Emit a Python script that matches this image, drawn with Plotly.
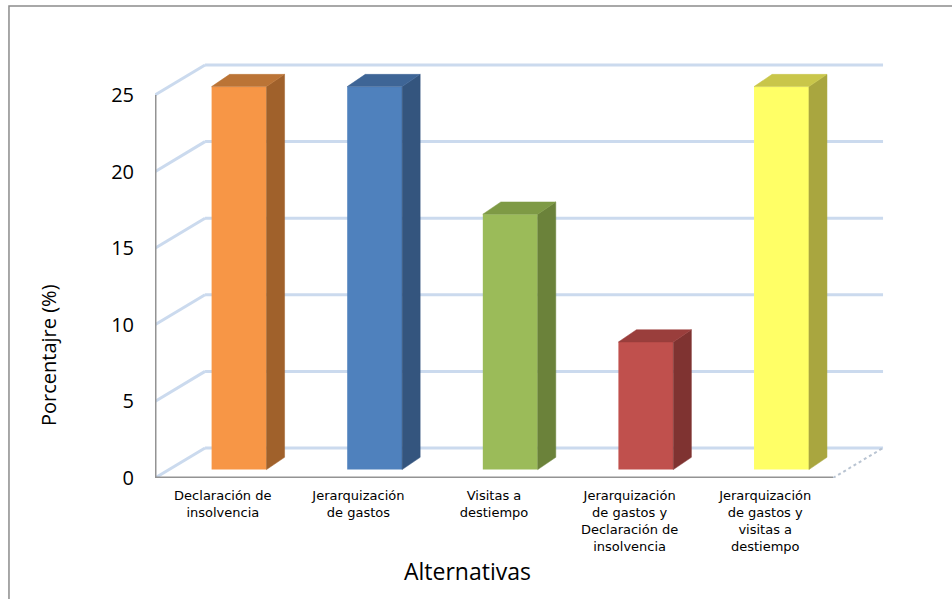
import plotly.graph_objects as go

# Chart data
categories = [
    "Declaración de<br>insolvencia",
    "Jerarquización<br>de gastos",
    "Visitas a<br>destiempo",
    "Jerarquización<br>de gastos y<br>Declaración de<br>insolvencia",
    "Jerarquización<br>de gastos y<br>visitas a<br>destiempo",
]
porcentaje = [25, 25, 16.67, 8.33, 25]
y_ticks = [0, 5, 10, 15, 20, 25]

# Face colours per bar (front, side, top)
front_colors = ["#F79646", "#4F81BD", "#9BBB59", "#C0504D", "#FFFF66"]
side_colors = ["#A0612B", "#34557E", "#6B823A", "#7F3331", "#A9A63F"]
top_colors = ["#BB7436", "#3E6596", "#7E9A45", "#9A3E3C", "#C9C64A"]

# Pseudo-3D geometry, in axis units
X0, X1 = -0.5, 4.5          # front floor edge
WALL_DX, WALL_DY = 0.369, 1.96   # depth of the back wall
BAR_SHIFT_X, BAR_SHIFT_Y = 0.12, 0.55  # bars sit a little behind the front plane
BAR_W = 0.405
BAR_DX, BAR_DY = 0.133, 0.80   # bar depth
GRID_COLOR = "#CBDAEE"
AXIS_COLOR = "#939393"

fig = go.Figure()
shapes = []

# Side-wall diagonals and back-wall gridlines
for v in y_ticks:
    shapes.append(dict(type="line", xref="x", yref="y", layer="below",
                       x0=X0, y0=v, x1=X0 + WALL_DX, y1=v + WALL_DY,
                       line=dict(color=GRID_COLOR, width=3)))
    shapes.append(dict(type="line", xref="x", yref="y", layer="below",
                       x0=X0 + WALL_DX, y0=v + WALL_DY, x1=X1 + WALL_DX, y1=v + WALL_DY,
                       line=dict(color=GRID_COLOR, width=3)))
# Right floor edge
shapes.append(dict(type="line", xref="x", yref="y", layer="below",
                   x0=X1, y0=0, x1=X1 + WALL_DX, y1=WALL_DY,
                   line=dict(color="#B9C4D2", width=2, dash="dot")))
# Front axes
shapes.append(dict(type="line", xref="x", yref="y", layer="above",
                   x0=X0, y0=0, x1=X0, y1=y_ticks[-1],
                   line=dict(color=AXIS_COLOR, width=3)))
shapes.append(dict(type="line", xref="x", yref="y", layer="above",
                   x0=X0, y0=0, x1=X1, y1=0,
                   line=dict(color=AXIS_COLOR, width=3)))
# Chart frame
shapes.append(dict(type="rect", xref="paper", yref="paper", layer="below",
                   x0=-0.196, y0=-0.3, x1=1.1, y1=1.103,
                   line=dict(color="#8C8C8C", width=1.5)))

# Front faces of the bars
xs = [i + BAR_SHIFT_X for i in range(len(porcentaje))]
fig.add_trace(go.Bar(
    x=xs, y=porcentaje, base=BAR_SHIFT_Y, width=BAR_W,
    marker=dict(color=front_colors, line=dict(width=0)),
    hoverinfo="skip", showlegend=False,
))

# Side and top faces
for i, v in enumerate(porcentaje):
    xl = xs[i] - BAR_W / 2
    xr = xs[i] + BAR_W / 2
    b = BAR_SHIFT_Y
    t = BAR_SHIFT_Y + v
    fig.add_trace(go.Scatter(
        x=[xr, xr + BAR_DX, xr + BAR_DX, xr, xr],
        y=[b, b + BAR_DY, t + BAR_DY, t, b],
        fill="toself", fillcolor=side_colors[i], mode="lines",
        line=dict(width=0.5, color=side_colors[i]),
        hoverinfo="skip", showlegend=False,
    ))
    fig.add_trace(go.Scatter(
        x=[xl, xl + BAR_DX, xr + BAR_DX, xr, xl],
        y=[t, t + BAR_DY, t + BAR_DY, t, t],
        fill="toself", fillcolor=top_colors[i], mode="lines",
        line=dict(width=0.5, color=top_colors[i]),
        hoverinfo="skip", showlegend=False,
    ))

fig.update_layout(
    width=952, height=599,
    margin=dict(l=155, r=52, t=50, b=121),
    paper_bgcolor="white", plot_bgcolor="white",
    shapes=shapes,
    xaxis=dict(range=[-0.5, 4.994], tickvals=list(range(len(categories))),
               ticktext=categories, showgrid=False, zeroline=False,
               showline=False, ticks="", ticklabelstandoff=8,
               tickfont=dict(family="DejaVu Sans", size=13, color="black")),
    yaxis=dict(range=[0, 27.94], tickvals=y_ticks, showgrid=False,
               zeroline=False, showline=False, ticks="",
               ticklabelstandoff=20,
               tickfont=dict(family="Open Sans", size=20, color="black")),
    annotations=[
        dict(text="Alternativas", xref="paper", yref="paper",
             x=(467 - 155) / 745, y=(478 - 571) / 428, showarrow=False,
             xanchor="center", yanchor="middle",
             font=dict(family="Open Sans", size=23, color="black")),
        dict(text="Porcentajre (%)", xref="paper", yref="paper",
             x=(48 - 155) / 745, y=(478 - 355) / 428, showarrow=False,
             xanchor="center", yanchor="middle",
             textangle=-90,
             font=dict(family="Open Sans", size=20, color="black")),
    ],
)

fig.write_html("out.html")
